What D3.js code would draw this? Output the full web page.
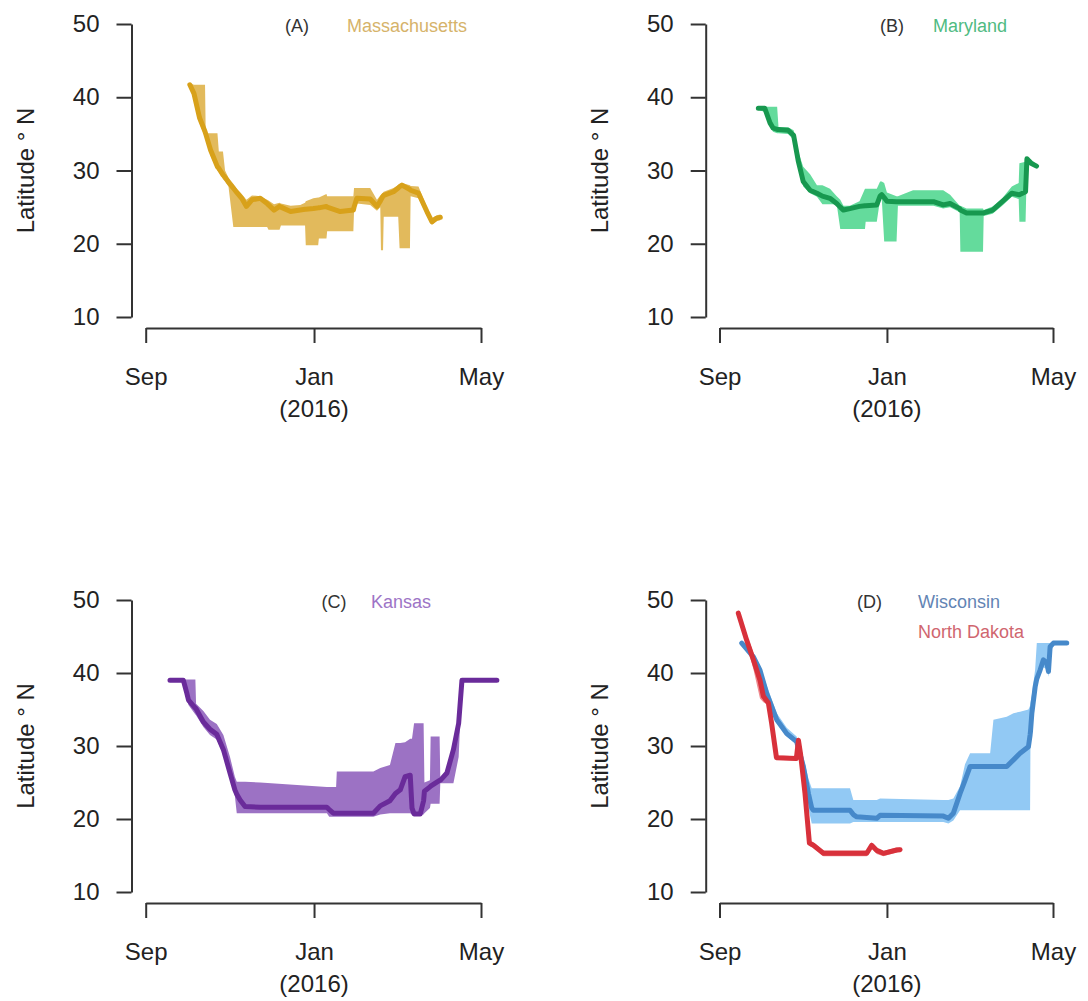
<!DOCTYPE html>
<html lang="en">
<head>
<meta charset="UTF-8">
<title>Latitude through the winter</title>
<script src="https://d3js.org/d3.v7.min.js"></script>
<style>
    * { margin: 0; padding: 0; box-sizing: border-box; }
    html, body { width: 1088px; height: 1001px; background: #fff; }
    svg { display: block; font-family: "Liberation Sans", Arial, sans-serif; }
    .axis path, .axis line { stroke: #333; stroke-width: 2; }
    .axis text { fill: #222; }
</style>
</head>
<body>
<svg id="chart" width="1088" height="1001"></svg>
<script>
// days are counted from 1 Sep 2015; lo / med / hi are latitude (deg N)

// (A) Massachusetts
const maDay = [32, 35, 39, 43, 43.5, 47, 52, 53, 56, 57.5, 60, 63.5, 66, 69.6, 73, 77, 83, 88, 89, 93, 97, 98, 105, 112, 115.5, 116, 121.5, 125, 125.5, 131, 131.5, 141, 150.5, 151, 153, 162.7, 167.6, 170, 170.5, 172, 172.5, 179.6, 183, 184, 185.7, 191.5, 192, 197.7, 203.8, 207.5, 211, 213.5];
const maLo  = [41.5, 40.0, 36.5, 34.5, 34.3, 32.0, 30.0, 29.8, 28.8, 28.5, 27.8, 22.3, 22.3, 22.3, 22.3, 22.3, 22.3, 22.3, 21.9, 21.9, 21.9, 22.5, 22.5, 22.5, 22.5, 19.8, 19.8, 19.8, 20.7, 20.7, 21.7, 21.7, 21.7, 24.5, 25.5, 25.3, 24.5, 25.0, 19.1, 19.1, 23.7, 23.7, 23.7, 19.4, 19.4, 19.4, 26.5, 26.2, 23.8, 22.6, 23.1, 23.2];
const maMed = [41.7, 40.5, 37.2, 35.3, 35.0, 32.8, 30.5, 30.3, 29.4, 29.1, 28.4, 27.6, 27.0, 26.2, 25.1, 26.0, 26.2, 25.5, 25.3, 24.6, 25.1, 25.0, 24.4, 24.6, 24.7, 24.7, 24.8, 24.9, 24.9, 25.1, 25.0, 24.4, 24.6, 25.0, 26.2, 26.1, 25.1, 25.8, 26.0, 26.5, 26.6, 27.1, 27.6, 27.8, 28.0, 27.4, 27.3, 26.9, 24.4, 23.0, 23.5, 23.6];
const maHi  = [41.9, 41.7, 41.7, 41.7, 35.1, 35.1, 35.1, 32.6, 32.6, 30.0, 29.0, 28.2, 27.5, 26.8, 26.0, 26.6, 26.5, 26.0, 25.9, 25.4, 25.6, 25.5, 25.2, 25.3, 25.6, 25.8, 26.2, 26.3, 26.3, 26.8, 26.5, 26.5, 26.5, 27.6, 27.6, 27.6, 26.0, 26.6, 26.7, 27.0, 27.1, 27.6, 28.0, 28.1, 28.3, 28.0, 27.9, 27.8, 25.0, 23.5, 23.9, 24.0];

// (B) Maryland
const mdDay = [28.3, 33, 36.8, 39, 42, 43, 50, 54, 57.5, 61, 66, 71, 75, 80.5, 85.4, 88, 90.3, 95, 102, 106, 106.5, 114.6, 117, 118.2, 120, 122, 129, 130, 141, 155.9, 163, 168, 175, 175.5, 180, 192, 192.5, 199, 206, 213, 218, 218.5, 223, 224, 227, 231];
const mdLo  = [38.3, 38.0, 36.0, 35.3, 35.1, 35.1, 35.0, 34.2, 30.6, 27.8, 26.9, 26.4, 25.4, 25.4, 25.4, 22.0, 22.0, 22.0, 22.0, 22.0, 23.0, 23.0, 26.0, 26.2, 20.3, 20.3, 20.3, 25.2, 25.2, 25.2, 24.8, 25.0, 24.3, 18.9, 18.9, 18.9, 23.8, 24.1, 25.2, 26.4, 26.1, 23.0, 23.0, 30.8, 30.8, 30.4];
const mdMed = [38.5, 38.5, 36.5, 35.8, 35.6, 35.6, 35.5, 34.8, 31.2, 28.5, 27.3, 26.9, 26.5, 26.2, 25.5, 25.0, 24.6, 24.8, 25.1, 25.2, 25.2, 25.3, 26.5, 26.7, 26.3, 25.8, 25.75, 25.75, 25.75, 25.75, 25.3, 25.5, 24.8, 24.6, 24.2, 24.2, 24.2, 24.6, 25.75, 26.9, 26.7, 26.7, 27.1, 31.6, 31.0, 30.6];
const mdHi  = [38.7, 38.7, 38.7, 38.7, 38.7, 35.9, 35.9, 35.5, 32.5, 30.5, 29.5, 28.0, 28.0, 27.5, 26.5, 26.0, 25.2, 25.2, 25.8, 27.5, 27.5, 27.5, 28.5, 28.5, 28.3, 27.0, 26.5, 26.5, 27.3, 27.3, 27.3, 26.7, 25.2, 25.2, 24.8, 24.8, 24.6, 25.1, 26.2, 27.8, 28.3, 31.0, 31.2, 31.8, 31.5, 30.8];

// (C) Kansas
const ksDay = [17.6, 27.3, 29.7, 31, 36, 36.5, 41.8, 46.6, 51.5, 56.3, 61.1, 64.6, 66, 68.4, 72, 83, 107, 131.3, 133, 136, 138, 138.5, 155.5, 165, 170, 177, 181, 184.5, 188, 191.7, 193, 194.5, 199, 201.4, 202, 206, 206.5, 213, 213.5, 218.3, 223, 226.8, 229.2, 254.5];
const ksLo  = [38.9, 38.8, 36.5, 35.6, 34.3, 34.2, 32.6, 31.5, 30.9, 28.8, 25.5, 23.2, 20.8, 20.8, 20.8, 20.8, 20.8, 20.8, 20.3, 20.3, 20.3, 20.3, 20.3, 20.3, 20.6, 20.8, 20.8, 20.8, 20.8, 20.8, 20.6, 20.6, 20.6, 20.6, 20.8, 21.5, 22.1, 22.1, 24.9, 24.9, 24.9, 28.5, 38.8, 38.8];
const ksMed = [39.0, 39.0, 37.3, 36.3, 35.2, 35.1, 33.3, 32.3, 31.6, 29.5, 26.3, 24.0, 23.4, 22.6, 21.7, 21.6, 21.6, 21.6, 21.3, 20.8, 20.8, 20.8, 20.8, 20.8, 21.8, 22.5, 23.5, 24.0, 25.8, 26.0, 21.5, 20.7, 20.7, 22.5, 23.8, 24.4, 24.5, 25.3, 25.3, 26.3, 29.5, 33.1, 39.0, 39.0];
const ksHi  = [39.1, 39.1, 39.1, 39.1, 39.1, 35.8, 34.8, 33.6, 33.0, 31.5, 28.5, 25.8, 25.1, 25.1, 25.1, 25.0, 24.7, 24.4, 24.4, 24.4, 24.4, 26.5, 26.5, 26.5, 27.0, 27.4, 30.4, 30.4, 30.5, 31.0, 31.0, 33.1, 33.1, 33.1, 25.0, 25.3, 31.3, 31.3, 25.6, 26.6, 29.8, 33.4, 39.1, 39.1];

// (D) Wisconsin
const wiDay = [16.2, 24.7, 29.5, 34.4, 41.7, 49, 56.2, 61.1, 64.8, 67.2, 68.4, 95.1, 97.5, 100, 114.6, 117, 163.1, 166.8, 170.4, 175.3, 178.9, 182.6, 197.2, 199.6, 209.3, 214.2, 219, 225.1, 226.3, 226.6, 227.6, 230, 231.2, 233.6, 236, 238.5, 239.7, 240.9, 243.3, 253];
const wiLo  = [43.8, 41.9, 39.9, 36.7, 33.2, 31.3, 30.2, 26.8, 21.5, 19.4, 19.4, 19.4, 19.6, 19.6, 19.6, 19.6, 19.6, 19.4, 19.8, 21.2, 21.2, 21.2, 21.2, 21.2, 21.2, 21.2, 21.2, 21.2, 21.2, 31.0, 33.5, 37.3, 38.5, 39.8, 40.8, 40.5, 39.5, 42.5, 43.8, 43.9];
const wiMed = [44.1, 42.2, 40.4, 37.2, 33.6, 31.7, 30.6, 27.2, 23.5, 21.5, 21.2, 21.2, 20.6, 20.3, 20.1, 20.5, 20.4, 20.1, 20.8, 23.5, 25.3, 27.2, 27.2, 27.2, 27.2, 28.1, 29.0, 29.9, 31.5, 32.0, 34.5, 38.1, 39.2, 40.4, 41.8, 41.4, 40.2, 43.6, 44.1, 44.1];
const wiHi  = [44.4, 42.6, 41.0, 38.3, 34.5, 32.5, 31.3, 28.5, 25.5, 24.2, 24.2, 24.2, 22.6, 22.6, 22.6, 22.8, 22.6, 22.6, 22.8, 24.5, 27.5, 29.0, 29.0, 33.6, 34.0, 34.5, 34.7, 35.0, 35.5, 36.0, 37.0, 40.5, 44.1, 44.1, 44.1, 44.1, 44.1, 44.1, 44.3, 44.3];

// (D) North Dakota
const ndDay = [13.7, 19.8, 24.7, 29.5, 32, 35.6, 38, 41.5, 56, 57.5, 59, 62.3, 65.5, 68.4, 75.7, 107.3, 110.9, 114.6, 119.4, 129.1, 131.6];
const ndLo  = [47.9, 44.0, 40.5, 36.5, 36.0, 35.6, 32.7, 28.1, 28.0, 30.4, 28.6, 23.1, 16.3, 16.1, 14.9, 14.9, 16.0, 15.2, 14.9, 15.4, 15.5];
const ndMed = [48.2, 44.5, 41.8, 39.0, 36.8, 35.9, 33.1, 28.4, 28.3, 30.8, 29.0, 23.5, 16.7, 16.4, 15.3, 15.3, 16.4, 15.7, 15.3, 15.75, 15.8];
const ndHi  = [48.6, 45.3, 42.8, 39.8, 38.5, 36.5, 33.5, 28.7, 28.6, 31.2, 29.4, 23.9, 17.1, 16.8, 15.7, 15.7, 16.8, 16.0, 15.6, 16.1, 16.1];

// axis ticks
const latTicks = [10, 20, 30, 40, 50];
const monthTicks = ["2015-09-01", "2016-01-01", "2016-05-01"];
const monthLabels = ["Sep", "Jan", "May"];
const yearLabel = "(2016)";

const parseDay = d3.utcParse("%Y-%m-%d");
const season0 = parseDay(monthTicks[0]);
const toDate = d => new Date(season0.getTime() + d * 864e5);

function makeSeries(name, day, lo, med, hi, band, line, text) {
    return {
        name, band, line, text,
        rows: day.map((d, i) => ({ date: toDate(d), lo: lo[i], med: med[i], hi: hi[i] }))
    };
}

const ma = makeSeries("Massachusetts", maDay, maLo, maMed, maHi, "#e2ba5c", "#d8a11a", "#d6b36a");
const md = makeSeries("Maryland", mdDay, mdLo, mdMed, mdHi, "#64db9c", "#17984f", "#4fbb82");
const ks = makeSeries("Kansas", ksDay, ksLo, ksMed, ksHi, "#9c72c4", "#6a2b9a", "#9d74c6");
const wi = makeSeries("Wisconsin", wiDay, wiLo, wiMed, wiHi, "#92c9f4", "#4689ca", "#6384b4");
const nd = makeSeries("North Dakota", ndDay, ndLo, ndMed, ndHi, "#ef8a8f", "#d8313b", "#d0666f");

// panel layout
const panels = [
    { tag: "(A)", ax: 131.5, x0: 145.7, x1: 481,  top: 24,  bottom: 317, tagX: 297,   legX: 347, series: [ma] },
    { tag: "(B)", ax: 705.7, x0: 719.5, x1: 1053, top: 24,  bottom: 317, tagX: 892,   legX: 933, series: [md] },
    { tag: "(C)", ax: 131.5, x0: 145.7, x1: 481,  top: 600, bottom: 892, tagX: 334,   legX: 371, series: [ks] },
    { tag: "(D)", ax: 705.7, x0: 719.5, x1: 1053, top: 600, bottom: 892, tagX: 869.5, legX: 918, series: [wi, nd] }
];

const svg = d3.select("#chart");
const font = "'Liberation Sans', Arial, sans-serif";

panels.forEach(p => {
    const x = d3.scaleUtc()
        .domain([parseDay(monthTicks[0]), parseDay(monthTicks[2])])
        .range([p.x0, p.x1]);
    const y = d3.scaleLinear().domain([10, 50]).range([p.bottom, p.top]);
    const g = svg.append("g");

    const area = d3.area().x(d => x(d.date)).y0(d => y(d.lo)).y1(d => y(d.hi));
    const line = d3.line().x(d => x(d.date)).y(d => y(d.med));

    p.series.forEach(s => {
        g.append("path").datum(s.rows)
            .attr("d", area)
            .attr("fill", s.band)
            .attr("stroke", "none");
    });
    p.series.forEach(s => {
        g.append("path").datum(s.rows)
            .attr("d", line)
            .attr("fill", "none")
            .attr("stroke", s.line)
            .attr("stroke-width", 5)
            .attr("stroke-linejoin", "round")
            .attr("stroke-linecap", "round");
    });

    // y axis
    g.append("g")
        .attr("class", "axis")
        .attr("transform", `translate(${p.ax},0)`)
        .call(d3.axisLeft(y).tickValues(latTicks).tickSize(15).tickSizeOuter(0).tickPadding(17))
        .attr("font-size", 24)
        .attr("font-family", font);

    // x axis
    const xAxisY = p.bottom + 11;
    const xg = g.append("g")
        .attr("class", "axis")
        .attr("transform", `translate(0,${xAxisY})`)
        .call(d3.axisBottom(x)
            .tickValues(monthTicks.map(parseDay))
            .tickFormat((d, i) => monthLabels[i])
            .tickSize(15).tickSizeOuter(0).tickPadding(25))
        .attr("font-size", 24)
        .attr("font-family", font);
    xg.append("text")
        .attr("x", x(parseDay(monthTicks[1])))
        .attr("y", 89)
        .attr("text-anchor", "middle")
        .text(yearLabel);

    // y label
    g.append("text")
        .attr("transform", `translate(${p.ax - 98},${(p.top + p.bottom) / 2}) rotate(-90)`)
        .attr("text-anchor", "middle")
        .attr("font-size", 24)
        .attr("font-family", font)
        .attr("fill", "#222")
        .text("Latitude \u00B0 N");

    // panel tag and legend
    g.append("text")
        .attr("x", p.tagX)
        .attr("y", p.top + 2)
        .attr("dy", "0.35em")
        .attr("text-anchor", "middle")
        .attr("font-size", 18)
        .attr("font-family", font)
        .attr("fill", "#333")
        .text(p.tag);

    p.series.forEach((s, i) => {
        g.append("text")
            .attr("x", p.legX)
            .attr("y", p.top + 2 + i * 30)
            .attr("dy", "0.35em")
            .attr("font-size", 18)
            .attr("font-family", font)
            .attr("fill", s.text)
            .text(s.name);
    });
});
</script>
</body>
</html>
